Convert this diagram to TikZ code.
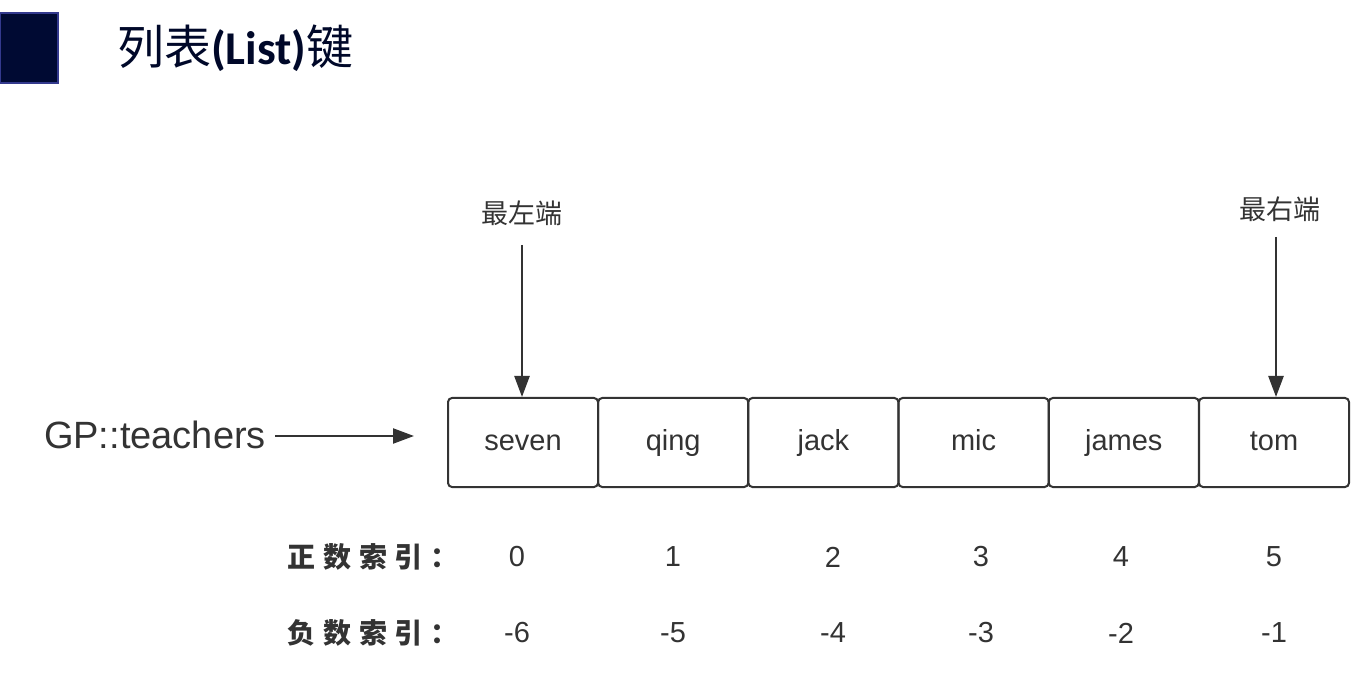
\documentclass[tikz,border=0pt]{standalone}
\usepackage{fontspec}
\setmainfont{Liberation Sans}
\newfontfamily\cjk{Noto Sans CJK SC}
\newfontfamily\calibri{Carlito}
\usepackage{xcolor}
\usepackage{tikz}
\usetikzlibrary{arrows.meta, positioning, calc}
\definecolor{navy}{HTML}{000A33}
\definecolor{ink}{HTML}{333333}

\begin{document}
\begin{tikzpicture}[x=1pt, y=-1pt,
  cell/.style={draw=ink, line width=2pt, rounded corners=4pt, minimum width=150pt,
    minimum height=89pt, inner sep=0pt, text height=21pt, text depth=6pt,
    text=ink, font=\fontsize{29}{29}\selectfont},
  pointer/.style={-{Triangle[length=21pt,width=15pt]}, line width=2.4pt, draw=ink},
  idx/.style={text=ink, font=\fontsize{29}{29}\selectfont},
  tag/.style={text=ink, font=\cjk\fontsize{27}{27}\selectfont}]
  % page 1366 x 700, y runs downwards
  \useasboundingbox (0,0) rectangle (1366,700);
  % title bar
  \fill[navy, draw=blue!30!navy!80!white, line width=1.2pt] (0,13) rectangle (58,83);
  \node[anchor=west, text=navy!80!black, inner sep=0pt] (title) at (117,48)
    {\fontsize{47}{47}\selectfont\cjk 列表{\calibri\bfseries (List)}键};
  % list cells: seven ... tom
  \foreach \w [count=\i from 0] in {seven,qing,jack,mic,james,tom} {
    \node[cell] (b\i) at ({523+150.2*\i},442.5) {\w};
  }
  % key name
  \node[anchor=east, inner sep=0pt, text=ink, font=\fontsize{38}{38}\selectfont] (gp) at (266,435) {GP::teachers};
  \coordinate (gptip) at (414,436);
  \draw[pointer, shorten <=9pt] (gp.east |- gptip) -- (gptip);
  % left / right end markers
  \node[tag] (lend) at (522,213) {最左端};
  \node[tag] (rend) at (1280,209) {最右端};
  \draw[pointer] ($(lend.south)+(0,16)$) -- (lend.south |- b0.north);
  \draw[pointer] ($(rend.south)+(-4,12)$) -- ($(rend.south |- b5.north)+(-4,0)$);
  % positive / negative indexes
  \node[anchor=west, text=ink, font=\cjk\bfseries\fontsize{28}{28}\selectfont] (plab) at (284,557) {正\;数\;索\;引\;：};
  \node[anchor=west, text=ink, font=\cjk\bfseries\fontsize{28}{28}\selectfont] (nlab) at (284,633) {负\;数\;索\;引\;：};
  \foreach \x/\p/\n [count=\i from 0] in {517/0/-6, 673/1/-5, 833/2/-4, 981/3/-3, 1121/4/-2, 1274/5/-1} {
    \node[idx] (pos\i) at (\x,557) {\p};
    \node[idx] (neg\i) at (\x,633) {\n};
  }
\end{tikzpicture}
\end{document}
